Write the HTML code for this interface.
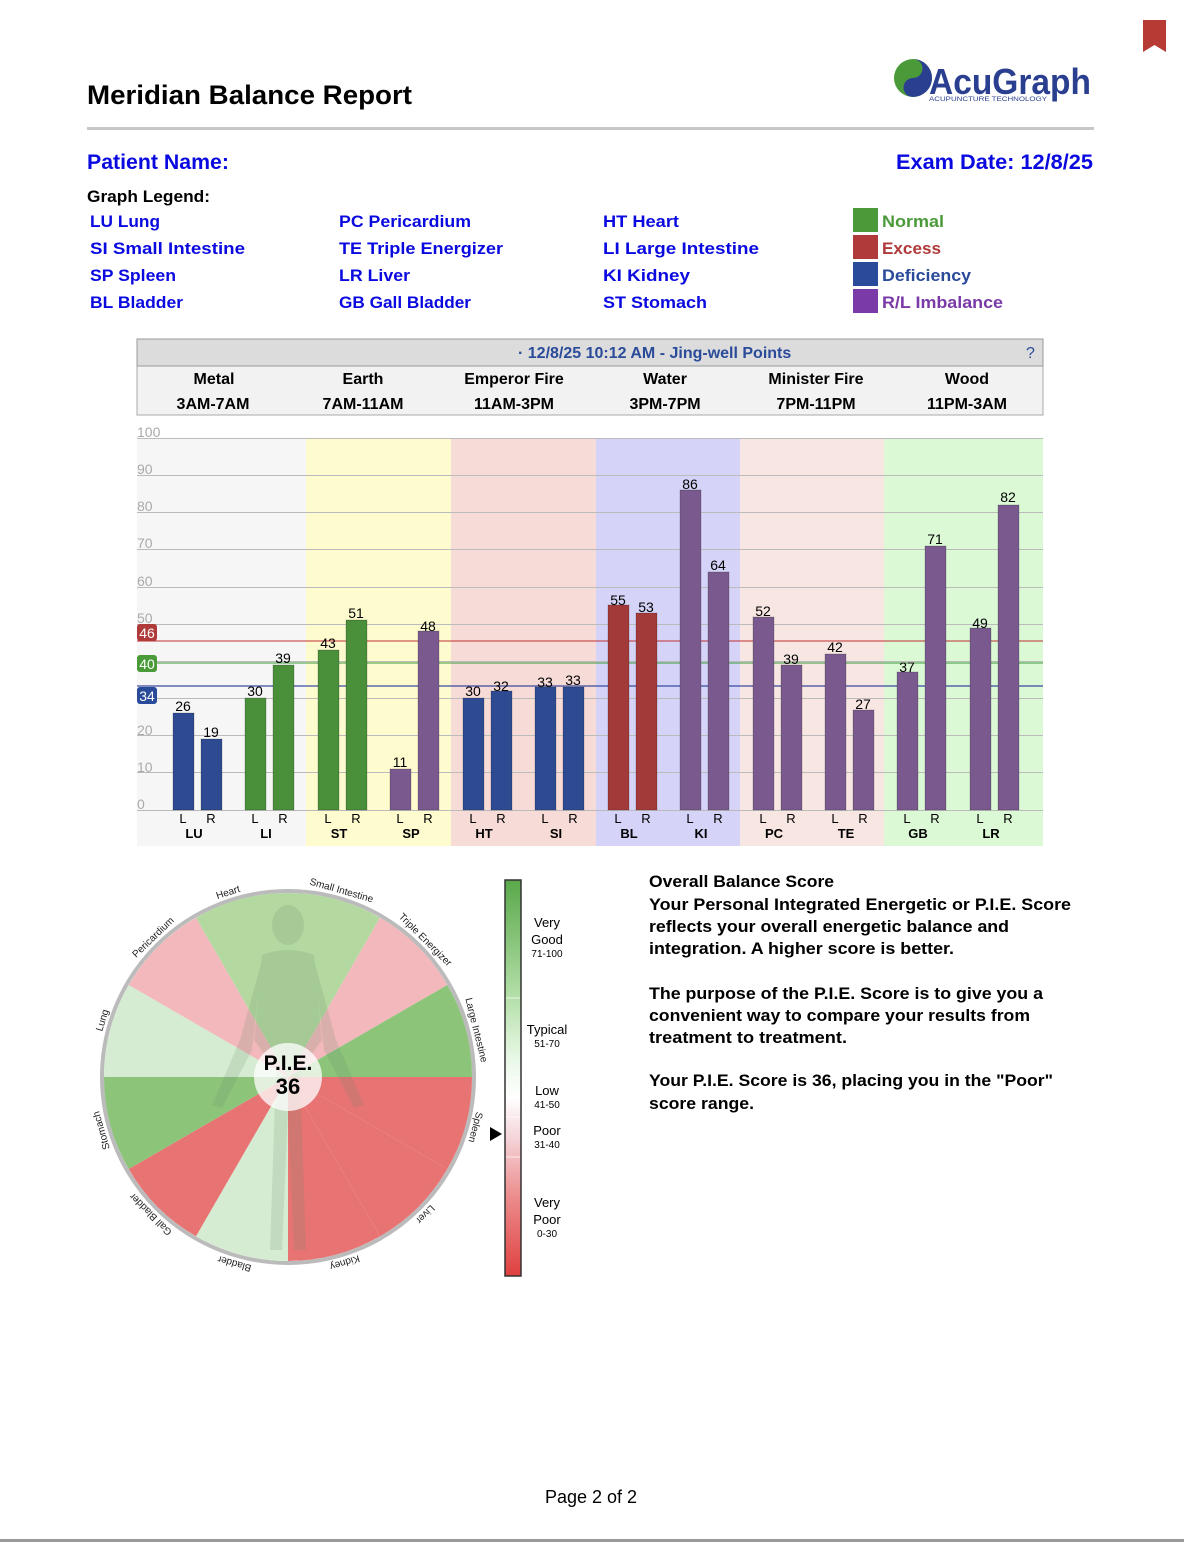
<!DOCTYPE html>
<html><head><meta charset="utf-8"><style>
html,body{margin:0;padding:0;background:#fff}
svg{display:block}
text{font-family:"Liberation Sans",Arial,sans-serif}
</style></head><body>
<svg width="1184" height="1542" viewBox="0 0 1184 1542" xmlns="http://www.w3.org/2000/svg">
<defs>
<linearGradient id="sc" x1="0" y1="0" x2="0" y2="1">
<stop offset="0" stop-color="#5aa84a"/><stop offset="0.3" stop-color="#b5e0aa"/><stop offset="0.45" stop-color="#e8f8e6"/><stop offset="0.55" stop-color="#ffffff"/><stop offset="0.65" stop-color="#f5d5da"/><stop offset="0.8" stop-color="#ec8c8c"/><stop offset="1" stop-color="#e04040"/>
</linearGradient>
</defs>
<!-- bookmark -->
<path d="M1143 20 H1166 V52 L1154.5 45 L1143 52 Z" fill="#b83a35"/>
<!-- logo -->
<circle cx="913" cy="78" r="19" fill="#4a9a3a"/>
<path d="M913 59 A19 19 0 0 1 913 97 A9.5 9.5 0 0 1 913 78 A9.5 9.5 0 0 0 913 59Z" fill="#2a3f8f"/>
<text x="929" y="94" font-size="36" font-weight="bold" fill="#2a3f8f" textLength="162" lengthAdjust="spacingAndGlyphs">AcuGraph</text>
<text x="929" y="101" font-size="6" fill="#2a3f8f" textLength="118" lengthAdjust="spacingAndGlyphs">ACUPUNCTURE TECHNOLOGY</text>
<!-- title -->
<text x="87" y="104" font-size="27" font-weight="bold" fill="#000" textLength="325" lengthAdjust="spacingAndGlyphs">Meridian Balance Report</text>
<rect x="87" y="127" width="1007" height="3" fill="#c8c8c8"/>
<text x="87" y="169" font-size="21" font-weight="bold" fill="#0a0ae0" textLength="142" lengthAdjust="spacingAndGlyphs">Patient Name:</text>
<text x="896" y="169" font-size="21" font-weight="bold" fill="#0a0ae0" textLength="197" lengthAdjust="spacingAndGlyphs">Exam Date: 12/8/25</text>
<text x="87" y="202" font-size="17" font-weight="bold" fill="#000" textLength="123" lengthAdjust="spacingAndGlyphs">Graph Legend:</text>
<g font-size="17" font-weight="bold" fill="#0a0ae0">
<text x="90" y="227" textLength="70" lengthAdjust="spacingAndGlyphs">LU Lung</text>
<text x="90" y="254" textLength="155" lengthAdjust="spacingAndGlyphs">SI  Small Intestine</text>
<text x="90" y="281" textLength="86" lengthAdjust="spacingAndGlyphs">SP Spleen</text>
<text x="90" y="308" textLength="93" lengthAdjust="spacingAndGlyphs">BL Bladder</text>
<text x="339" y="227" textLength="132" lengthAdjust="spacingAndGlyphs">PC Pericardium</text>
<text x="339" y="254" textLength="164" lengthAdjust="spacingAndGlyphs">TE Triple Energizer</text>
<text x="339" y="281" textLength="71" lengthAdjust="spacingAndGlyphs">LR Liver</text>
<text x="339" y="308" textLength="132" lengthAdjust="spacingAndGlyphs">GB Gall Bladder</text>
<text x="603" y="227" textLength="76" lengthAdjust="spacingAndGlyphs">HT Heart</text>
<text x="603" y="254" textLength="156" lengthAdjust="spacingAndGlyphs">LI  Large Intestine</text>
<text x="603" y="281" textLength="87" lengthAdjust="spacingAndGlyphs">KI  Kidney</text>
<text x="603" y="308" textLength="104" lengthAdjust="spacingAndGlyphs">ST Stomach</text>
</g>
<rect x="853" y="208" width="25" height="24" fill="#4a9a3a"/>
<rect x="853" y="235" width="25" height="24" fill="#b03a3a"/>
<rect x="853" y="262" width="25" height="24" fill="#2a4a9a"/>
<rect x="853" y="289" width="25" height="24" fill="#7a3aa8"/>
<g font-size="17" font-weight="bold">
<text x="882" y="227" fill="#4a9a3a" textLength="62" lengthAdjust="spacingAndGlyphs">Normal</text>
<text x="882" y="254" fill="#b03a3a" textLength="59" lengthAdjust="spacingAndGlyphs">Excess</text>
<text x="882" y="281" fill="#2a4a9a" textLength="89" lengthAdjust="spacingAndGlyphs">Deficiency</text>
<text x="882" y="308" fill="#7a3aa8" textLength="121" lengthAdjust="spacingAndGlyphs">R/L Imbalance</text>
</g>
<!-- chart header -->
<rect x="137" y="339" width="906" height="76" fill="#f2f2f2" stroke="#aaa" stroke-width="1"/>
<rect x="137" y="339" width="906" height="27" fill="#dcdcdc" stroke="#999" stroke-width="1"/>
<text x="518" y="358" font-size="16" font-weight="bold" fill="#2a4a9a">· 12/8/25 10:12 AM - Jing-well Points</text>
<text x="1026" y="358" font-size="16" fill="#2a4a9a">?</text>
<g font-size="16" font-weight="bold" fill="#000" text-anchor="middle">
<text x="214" y="384">Metal</text><text x="363" y="384">Earth</text><text x="514" y="384">Emperor Fire</text><text x="665" y="384">Water</text><text x="816" y="384">Minister Fire</text><text x="967" y="384">Wood</text>
<text x="213" y="409">3AM-7AM</text><text x="363" y="409">7AM-11AM</text><text x="514" y="409">11AM-3PM</text><text x="665" y="409">3PM-7PM</text><text x="816" y="409">7PM-11PM</text><text x="967" y="409">11PM-3AM</text>
</g>
<!-- zones -->
<rect x="137" y="438" width="169" height="408" fill="#f6f6f6"/>
<rect x="306" y="438" width="145" height="408" fill="#fefbcf"/>
<rect x="451" y="438" width="145" height="408" fill="#f7dbd6"/>
<rect x="596" y="438" width="144" height="408" fill="#d5d3f7"/>
<rect x="740" y="438" width="144" height="408" fill="#f7e6e2"/>
<rect x="884" y="438" width="159" height="408" fill="#dcf9d6"/>
<!-- grid -->
<g stroke="#bbb" stroke-width="1">
<line x1="137" y1="438.5" x2="1043" y2="438.5"/><line x1="137" y1="475.5" x2="1043" y2="475.5"/><line x1="137" y1="512.5" x2="1043" y2="512.5"/><line x1="137" y1="549.5" x2="1043" y2="549.5"/><line x1="137" y1="587.5" x2="1043" y2="587.5"/><line x1="137" y1="624.5" x2="1043" y2="624.5"/><line x1="137" y1="661.5" x2="1043" y2="661.5"/><line x1="137" y1="698.5" x2="1043" y2="698.5"/><line x1="137" y1="735.5" x2="1043" y2="735.5"/><line x1="137" y1="772.5" x2="1043" y2="772.5"/><line x1="137" y1="810.5" x2="1043" y2="810.5"/>
</g>
<g font-size="14" fill="#aaa">
<text x="137" y="437">100</text><text x="137" y="474">90</text><text x="137" y="511">80</text><text x="137" y="548">70</text><text x="137" y="586">60</text><text x="137" y="623">50</text><text x="137" y="809">0</text><text x="137" y="772">10</text><text x="137" y="735">20</text>
</g>
<line x1="137" y1="641" x2="1043" y2="641" stroke="#c03030" stroke-width="1"/>
<line x1="137" y1="663" x2="1043" y2="663" stroke="#3a9a3a" stroke-width="1"/>
<line x1="137" y1="686" x2="1043" y2="686" stroke="#3a4aa0" stroke-width="1.2"/>
<rect x="137" y="624" width="20" height="17" rx="3" fill="#b03a3a"/><text x="147" y="638" font-size="14" fill="#fff" text-anchor="middle">46</text>
<rect x="137" y="655" width="20" height="17" rx="3" fill="#4a9a3a"/><text x="147" y="669" font-size="14" fill="#fff" text-anchor="middle">40</text>
<rect x="137" y="687" width="20" height="17" rx="3" fill="#2a4a9a"/><text x="147" y="701" font-size="14" fill="#fff" text-anchor="middle">34</text>
<!-- bars -->
<g stroke="#00000030" stroke-width="1">
<rect x="173" y="713" width="21" height="97" fill="#2e4b92"/>
<rect x="201" y="739" width="21" height="71" fill="#2e4b92"/>
<rect x="245" y="698" width="21" height="112" fill="#4a8f3a"/>
<rect x="273" y="665" width="21" height="145" fill="#4a8f3a"/>
<rect x="318" y="650" width="21" height="160" fill="#4a8f3a"/>
<rect x="346" y="620" width="21" height="190" fill="#4a8f3a"/>
<rect x="390" y="769" width="21" height="41" fill="#7a5a8e"/>
<rect x="418" y="631" width="21" height="179" fill="#7a5a8e"/>
<rect x="463" y="698" width="21" height="112" fill="#2e4b92"/>
<rect x="491" y="691" width="21" height="119" fill="#2e4b92"/>
<rect x="535" y="687" width="21" height="123" fill="#2e4b92"/>
<rect x="563" y="687" width="21" height="123" fill="#2e4b92"/>
<rect x="608" y="605" width="21" height="205" fill="#a33a3a"/>
<rect x="636" y="613" width="21" height="197" fill="#a33a3a"/>
<rect x="680" y="490" width="21" height="320" fill="#7a5a8e"/>
<rect x="708" y="572" width="21" height="238" fill="#7a5a8e"/>
<rect x="753" y="617" width="21" height="193" fill="#7a5a8e"/>
<rect x="781" y="665" width="21" height="145" fill="#7a5a8e"/>
<rect x="825" y="654" width="21" height="156" fill="#7a5a8e"/>
<rect x="853" y="710" width="21" height="100" fill="#7a5a8e"/>
<rect x="897" y="672" width="21" height="138" fill="#7a5a8e"/>
<rect x="925" y="546" width="21" height="264" fill="#7a5a8e"/>
<rect x="970" y="628" width="21" height="182" fill="#7a5a8e"/>
<rect x="998" y="505" width="21" height="305" fill="#7a5a8e"/>
</g>
<g font-size="14" fill="#000" text-anchor="middle">
<text x="183" y="711">26</text><text x="211" y="737">19</text><text x="255" y="696">30</text><text x="283" y="663">39</text><text x="328" y="648">43</text><text x="356" y="618">51</text><text x="400" y="767">11</text><text x="428" y="631">48</text><text x="473" y="696">30</text><text x="501" y="691">32</text><text x="545" y="687">33</text><text x="573" y="685">33</text><text x="618" y="605">55</text><text x="646" y="612">53</text><text x="690" y="489">86</text><text x="718" y="570">64</text><text x="763" y="616">52</text><text x="791" y="664">39</text><text x="835" y="652">42</text><text x="863" y="709">27</text><text x="907" y="672">37</text><text x="935" y="544">71</text><text x="980" y="628">49</text><text x="1008" y="502">82</text>
</g>
<g font-size="13" fill="#000" text-anchor="middle">
<text x="183" y="823">L</text><text x="211" y="823">R</text><text x="255" y="823">L</text><text x="283" y="823">R</text><text x="328" y="823">L</text><text x="356" y="823">R</text><text x="400" y="823">L</text><text x="428" y="823">R</text><text x="473" y="823">L</text><text x="501" y="823">R</text><text x="545" y="823">L</text><text x="573" y="823">R</text><text x="618" y="823">L</text><text x="646" y="823">R</text><text x="690" y="823">L</text><text x="718" y="823">R</text><text x="763" y="823">L</text><text x="791" y="823">R</text><text x="835" y="823">L</text><text x="863" y="823">R</text><text x="907" y="823">L</text><text x="935" y="823">R</text><text x="980" y="823">L</text><text x="1008" y="823">R</text>
</g>
<g font-size="13" font-weight="bold" fill="#000" text-anchor="middle">
<text x="194" y="838">LU</text><text x="266" y="838">LI</text><text x="339" y="838">ST</text><text x="411" y="838">SP</text><text x="484" y="838">HT</text><text x="556" y="838">SI</text><text x="629" y="838">BL</text><text x="701" y="838">KI</text><text x="774" y="838">PC</text><text x="846" y="838">TE</text><text x="918" y="838">GB</text><text x="991" y="838">LR</text>
</g>
<!-- pie -->
<circle cx="288" cy="1077" r="186" fill="none" stroke="#bbb" stroke-width="4"/>
<path d="M288 1077 L288 893 A184 184 0 0 1 380 917.7Z" fill="#b3d9a0"/>
<path d="M288 1077 L380 917.7 A184 184 0 0 1 447.3 985Z" fill="#f2b8bc"/>
<path d="M288 1077 L447.3 985 A184 184 0 0 1 472 1077Z" fill="#8cc47a"/>
<path d="M288 1077 L472 1077 A184 184 0 0 1 447.3 1169Z" fill="#e87373"/>
<path d="M288 1077 L447.3 1169 A184 184 0 0 1 380 1236.3Z" fill="#e87373"/>
<path d="M288 1077 L380 1236.3 A184 184 0 0 1 288 1261Z" fill="#e87373"/>
<path d="M288 1077 L288 1261 A184 184 0 0 1 196 1236.3Z" fill="#d6ecd2"/>
<path d="M288 1077 L196 1236.3 A184 184 0 0 1 128.7 1169Z" fill="#e87373"/>
<path d="M288 1077 L128.7 1169 A184 184 0 0 1 104 1077Z" fill="#8cc47a"/>
<path d="M288 1077 L104 1077 A184 184 0 0 1 128.7 985Z" fill="#d6ecd2"/>
<path d="M288 1077 L128.7 985 A184 184 0 0 1 196 917.7Z" fill="#f2b8bc"/>
<path d="M288 1077 L196 917.7 A184 184 0 0 1 288 893Z" fill="#b3d9a0"/>
<!-- faint body silhouette -->
<g fill="#6a8a6a" opacity="0.18">
<ellipse cx="288" cy="925" rx="16" ry="20"/>
<path d="M262 955 Q288 945 314 955 L322 1040 L300 1070 L306 1250 L294 1250 L288 1110 L282 1250 L270 1250 L276 1070 L254 1040Z"/>
<path d="M262 960 L240 1040 L212 1105 L222 1108 L252 1050Z"/><path d="M314 960 L336 1040 L364 1105 L354 1108 L324 1050Z"/>
</g>
<circle cx="288" cy="1077" r="34" fill="#ffffff" opacity="0.75"/>
<text x="288" y="1070" font-size="21" font-weight="bold" text-anchor="middle" fill="#000">P.I.E.</text>
<text x="288" y="1094" font-size="22" font-weight="bold" text-anchor="middle" fill="#000">36</text>
<g font-size="10" fill="#222" text-anchor="middle">
<text transform="translate(288 1077) rotate(-18) translate(0 -191)">Heart</text>
<text transform="translate(288 1077) rotate(16) translate(0 -191)">Small Intestine</text>
<text transform="translate(288 1077) rotate(45) translate(0 -191)">Triple Energizer</text>
<text transform="translate(288 1077) rotate(76) translate(0 -191)">Large Intestine</text>
<text transform="translate(288 1077) rotate(105) translate(0 -191)">Spleen</text>
<text transform="translate(288 1077) rotate(135) translate(0 -191)">Liver</text>
<text transform="translate(288 1077) rotate(163) translate(0 -191)">Kidney</text>
<text transform="translate(288 1077) rotate(196) translate(0 -191)">Bladder</text>
<text transform="translate(288 1077) rotate(225) translate(0 -191)">Gall Bladder</text>
<text transform="translate(288 1077) rotate(254) translate(0 -191)">Stomach</text>
<text transform="translate(288 1077) rotate(287) translate(0 -191)">Lung</text>
<text transform="translate(288 1077) rotate(316) translate(0 -191)">Pericardium</text>
</g>
<!-- scale bar -->
<rect x="505" y="880" width="16" height="396" fill="url(#sc)" stroke="#333" stroke-width="1.5"/>
<g stroke="#fff" stroke-width="1" opacity="0.7"><line x1="506" y1="998" x2="520" y2="998"/><line x1="506" y1="1077" x2="520" y2="1077"/><line x1="506" y1="1117" x2="520" y2="1117"/><line x1="506" y1="1157" x2="520" y2="1157"/></g>
<path d="M490 1127 L502 1134 L490 1141Z" fill="#000"/>
<g text-anchor="middle" fill="#000">
<text x="547" y="927" font-size="13">Very</text><text x="547" y="944" font-size="13">Good</text><text x="547" y="957" font-size="10">71-100</text>
<text x="547" y="1034" font-size="13">Typical</text><text x="547" y="1047" font-size="10">51-70</text>
<text x="547" y="1095" font-size="13">Low</text><text x="547" y="1108" font-size="10">41-50</text>
<text x="547" y="1135" font-size="13">Poor</text><text x="547" y="1148" font-size="10">31-40</text>
<text x="547" y="1207" font-size="13">Very</text><text x="547" y="1224" font-size="13">Poor</text><text x="547" y="1237" font-size="10">0-30</text>
</g>
<!-- right text -->
<g font-size="17" font-weight="bold" fill="#000">
<text x="649" y="887" textLength="185" lengthAdjust="spacingAndGlyphs">Overall Balance Score</text>
<text x="649" y="910" textLength="422" lengthAdjust="spacingAndGlyphs">Your Personal Integrated Energetic or P.I.E. Score</text>
<text x="649" y="932" textLength="360" lengthAdjust="spacingAndGlyphs">reflects your overall energetic balance and</text>
<text x="649" y="954" textLength="305" lengthAdjust="spacingAndGlyphs">integration. A higher score is better.</text>
<text x="649" y="999" textLength="394" lengthAdjust="spacingAndGlyphs">The purpose of the P.I.E. Score is to give you a</text>
<text x="649" y="1021" textLength="381" lengthAdjust="spacingAndGlyphs">convenient way to compare your results from</text>
<text x="649" y="1043" textLength="198" lengthAdjust="spacingAndGlyphs">treatment to treatment.</text>
<text x="649" y="1086" textLength="404" lengthAdjust="spacingAndGlyphs">Your P.I.E. Score is 36, placing you in the "Poor"</text>
<text x="649" y="1109" textLength="105" lengthAdjust="spacingAndGlyphs">score range.</text>
</g>
<text x="591" y="1503" font-size="18" text-anchor="middle" fill="#000">Page 2 of 2</text>
<rect x="0" y="1539" width="1184" height="3" fill="#999"/>
</svg>
</body></html>
